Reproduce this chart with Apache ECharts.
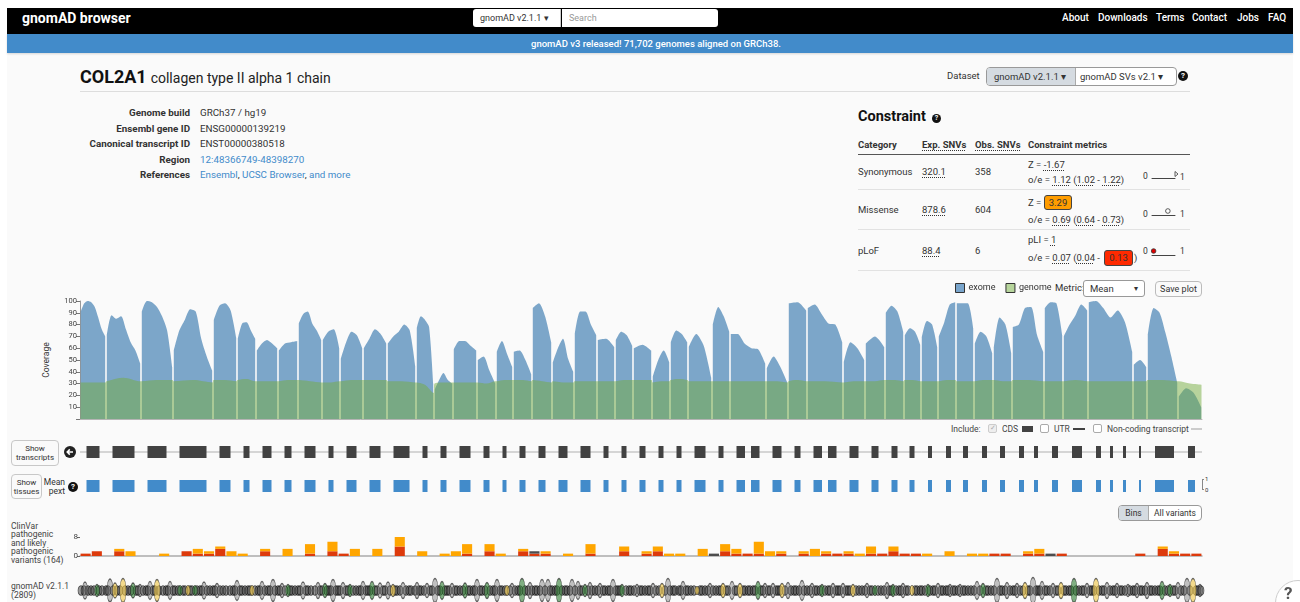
<!DOCTYPE html>
<html lang="en">
<head>
<meta charset="utf-8">
<title>COL2A1 | gnomAD</title>
<script src="https://cdn.jsdelivr.net/npm/echarts@6/dist/echarts.min.js"></script>
<style>
html,body{margin:0;padding:0}
body{width:1300px;height:602px;overflow:hidden;background:#fff;font-family:Roboto,"Noto Sans",sans-serif;color:#333;position:relative}
.a{position:absolute;white-space:nowrap}
.t{position:absolute;white-space:nowrap;line-height:12px;height:12px}
.b{font-weight:700}
.lnk{color:#428bca}
.u{text-decoration:underline dotted #333;text-underline-offset:2px}
.q{position:absolute;width:10px;height:10px;border-radius:50%;background:#111;color:#fff;font-size:8px;font-weight:700;line-height:10px;text-align:center}
.btn{position:absolute;border:1px solid #c8c8c8;border-radius:4px;background:#fafafa;font-size:8px;line-height:9px;text-align:center;box-sizing:border-box;color:#333}
.cb{position:absolute;width:9px;height:9px;border:1px solid #aaa;border-radius:2px;background:#fff;box-sizing:border-box;font-size:7px;line-height:7px;color:#aaa;text-align:center}
#chart{position:absolute;left:0;top:0;width:1300px;height:602px;z-index:5}
</style>
</head>
<body>
<div class="a" style="left:7px;top:53px;width:1286px;height:549px;background:#fafafa"></div>
<div class="a" style="left:7px;top:8px;width:1286px;height:26px;background:#000"></div>
<div class="a b" style="left:22px;top:10px;line-height:16px;font-size:14px;color:#fff">gnomAD browser</div>
<div class="a" style="left:473px;top:9px;width:88px;height:18px;background:#fff;border-radius:3px 0 0 3px;border-right:1px solid #ccc;font-size:9px;line-height:18px;padding-left:7px;box-sizing:border-box;color:#333">gnomAD v2.1.1 &#9662;</div>
<div class="a" style="left:562px;top:9px;width:156px;height:18px;background:#fff;border-radius:0 3px 3px 0;font-size:9px;line-height:18px;padding-left:7px;box-sizing:border-box;color:#999">Search</div>
<div class="a" style="left:1062px;top:12px;line-height:12px;font-size:10px;font-weight:500;color:#fff">About</div>
<div class="a" style="left:1098px;top:12px;line-height:12px;font-size:10px;font-weight:500;color:#fff">Downloads</div>
<div class="a" style="left:1156px;top:12px;line-height:12px;font-size:10px;font-weight:500;color:#fff">Terms</div>
<div class="a" style="left:1192px;top:12px;line-height:12px;font-size:10px;font-weight:500;color:#fff">Contact</div>
<div class="a" style="left:1237px;top:12px;line-height:12px;font-size:10px;font-weight:500;color:#fff">Jobs</div>
<div class="a" style="left:1268px;top:12px;line-height:12px;font-size:10px;font-weight:500;color:#fff">FAQ</div>
<div class="a" style="left:7px;top:34px;width:1286px;height:19px;background:#428bca;box-shadow:0 1px 2px rgba(0,0,0,0.15)"></div>
<div class="a" style="left:7px;top:34px;width:1298px;height:19px;text-align:center;font-size:9.5px;font-weight:500;line-height:19px;color:#fff">gnomAD v3 released! 71,702 genomes aligned on GRCh38.</div>

<div class="a" style="left:80px;top:66px;line-height:22px;color:#111"><span style="font-size:18px;font-weight:700">COL2A1</span> <span style="font-size:14px;color:#222">collagen type II alpha 1 chain</span></div>
<div class="a" style="left:80px;top:91px;width:1110px;height:1px;background:#ddd"></div>
<div class="t" style="left:947px;top:70px;font-size:9.5px">Dataset</div>
<div class="a" style="left:986px;top:67px;width:191px;height:19px;border:1px solid #999;border-radius:4px;box-sizing:border-box;background:#fff;overflow:hidden">
  <div class="a" style="left:0;top:0;width:89px;height:17px;background:#d5dbe1;border-right:1px solid #aaa;font-size:9.5px;line-height:17px;padding-left:7px;box-sizing:border-box">gnomAD v2.1.1 &#9662;</div>
  <div class="a" style="left:90px;top:0;height:17px;font-size:9.5px;line-height:17px;padding-left:3px">gnomAD SVs v2.1 &#9662;</div>
</div>
<div class="q" style="left:1178px;top:71px">?</div>

<div class="t b" style="left:0;width:190px;text-align:right;top:107px;font-size:9.8px">Genome build</div>
<div class="t" style="left:200px;top:107px;font-size:9.8px">GRCh37 / hg19</div>
<div class="t b" style="left:0;width:190px;text-align:right;top:123px;font-size:9.8px">Ensembl gene ID</div>
<div class="t" style="left:200px;top:123px;font-size:9.8px">ENSG00000139219</div>
<div class="t b" style="left:0;width:190px;text-align:right;top:138px;font-size:9.8px">Canonical transcript ID</div>
<div class="t" style="left:200px;top:138px;font-size:9.8px">ENST00000380518</div>
<div class="t b" style="left:0;width:190px;text-align:right;top:154px;font-size:9.8px">Region</div>
<div class="t lnk" style="left:200px;top:154px;font-size:9.8px">12:48366749-48398270</div>
<div class="t b" style="left:0;width:190px;text-align:right;top:169px;font-size:9.8px">References</div>
<div class="t" style="left:200px;top:169px;font-size:9.8px"><span class="lnk">Ensembl</span>, <span class="lnk">UCSC Browser</span>, <span class="lnk">and more</span></div>

<div class="a b" style="left:858px;top:108px;line-height:18px;font-size:14.5px;color:#111">Constraint</div>
<div class="q" style="left:932px;top:114px;width:9px;height:9px;line-height:9px;font-size:7px">?</div>
<div class="t b" style="left:858px;top:139px;font-size:9.5px">Category</div>
<div class="t b" style="left:922px;top:139px;font-size:9.5px"><span class="u">Exp. SNVs</span></div>
<div class="t b" style="left:975px;top:139px;font-size:9.5px"><span class="u">Obs. SNVs</span></div>
<div class="t b" style="left:1028px;top:139px;font-size:9.5px">Constraint metrics</div>
<div class="a" style="left:858px;top:154px;width:332px;height:1px;background:#555"></div>

<div class="t" style="left:858px;top:166px;font-size:9.5px">Synonymous</div>
<div class="t" style="left:922px;top:166px;font-size:9.5px"><span class="u">320.1</span></div>
<div class="t" style="left:975px;top:166px;font-size:9.5px">358</div>
<div class="t" style="left:1028px;top:159px;font-size:9.5px">Z = <span class="u">-1.67</span></div>
<div class="t" style="left:1028px;top:174px;font-size:9.5px">o/e = <span class="u">1.12</span> (<span class="u">1.02</span> - <span class="u">1.22</span>)</div>
<div class="t" style="left:1143px;top:170px;font-size:8.5px">0</div>
<div class="t" style="left:1180px;top:171px;font-size:8.5px">1</div>
<div class="a" style="left:858px;top:189px;width:332px;height:1px;background:#e2e2e2"></div>

<div class="t" style="left:858px;top:204px;font-size:9.5px">Missense</div>
<div class="t" style="left:922px;top:204px;font-size:9.5px"><span class="u">878.6</span></div>
<div class="t" style="left:975px;top:204px;font-size:9.5px">604</div>
<div class="t" style="left:1028px;top:197px;font-size:9.5px">Z = </div>
<div class="a" style="left:1044px;top:195px;width:28px;height:15px;background:#ff9d00;border:1px solid #444;border-radius:3px;box-sizing:border-box;font-size:9.5px;line-height:13px;text-align:center;color:#333">3.29</div>
<div class="t" style="left:1028px;top:214px;font-size:9.5px">o/e = <span class="u">0.69</span> (<span class="u">0.64</span> - <span class="u">0.73</span>)</div>
<div class="t" style="left:1143px;top:208px;font-size:8.5px">0</div>
<div class="t" style="left:1180px;top:208px;font-size:8.5px">1</div>
<div class="a" style="left:858px;top:229px;width:332px;height:1px;background:#e2e2e2"></div>

<div class="t" style="left:858px;top:245px;font-size:9.5px">pLoF</div>
<div class="t" style="left:922px;top:245px;font-size:9.5px"><span class="u">88.4</span></div>
<div class="t" style="left:975px;top:245px;font-size:9.5px">6</div>
<div class="t" style="left:1028px;top:234px;font-size:9.5px">pLI = <span class="u">1</span></div>
<div class="t" style="left:1028px;top:252px;font-size:9.5px">o/e = <span class="u">0.07</span> (<span class="u">0.04</span> - </div>
<div class="a" style="left:1104px;top:250px;width:29px;height:16px;background:#ff2a00;border:1px solid #444;border-radius:3px;box-sizing:border-box;font-size:9.5px;line-height:14px;text-align:center;color:#333">0.13</div>
<div class="t" style="left:1134px;top:252px;font-size:9.5px">)</div>
<div class="t" style="left:1143px;top:245px;font-size:8.5px">0</div>
<div class="t" style="left:1180px;top:245px;font-size:8.5px">1</div>
<div class="a" style="left:858px;top:270px;width:332px;height:1px;background:#e2e2e2"></div>

<div class="t" style="left:1055px;top:282px;font-size:9.5px">Metric:</div>
<div class="a" style="left:1083px;top:280px;width:62px;height:17px;border:1px solid #999;border-radius:3px;box-sizing:border-box;background:#fff;font-size:9.5px;line-height:15px;padding-left:6px">Mean<span style="position:absolute;left:50px;font-size:8px">&#9662;</span></div>
<div class="a" style="left:1155px;top:281px;width:47px;height:16px;border:1px solid #bbb;border-radius:4px;box-sizing:border-box;background:#fafafa;font-size:9px;line-height:14px;text-align:center">Save plot</div>
<div class="a" style="left:16px;top:354px;width:60px;height:12px;line-height:12px;text-align:center;font-size:8.5px;transform:rotate(-90deg);transform-origin:30px 6px">Coverage</div>

<div class="t" style="left:951px;top:423px;font-size:8.5px;color:#444">Include:</div>
<div class="cb" style="left:988px;top:424px;border-color:#ccc;background:#eee">&#10003;</div>
<div class="t" style="left:1002px;top:423px;font-size:8.5px;color:#444">CDS</div>
<div class="a" style="left:1022px;top:426px;width:11px;height:6px;background:#424242"></div>
<div class="cb" style="left:1040px;top:424px"></div>
<div class="t" style="left:1054px;top:423px;font-size:8.5px;color:#444">UTR</div>
<div class="a" style="left:1073px;top:428px;width:12px;height:2px;background:#424242"></div>
<div class="cb" style="left:1093px;top:424px"></div>
<div class="t" style="left:1107px;top:423px;font-size:8.5px;color:#444">Non-coding transcript</div>
<div class="a" style="left:1191px;top:428px;width:11px;height:2px;background:#ccc"></div>

<div class="btn" style="left:11px;top:440px;width:48px;height:26px;padding-top:3px">Show<br>transcripts</div>
<svg class="a" style="left:64px;top:446px" width="12" height="12" viewBox="0 0 12 12"><circle cx="6" cy="6" r="6" fill="#222"/><path d="M9 6H3.5M5.8 3.4L3.2 6l2.6 2.6" stroke="#fff" stroke-width="1.5" fill="none"/></svg>
<div class="btn" style="left:11px;top:474px;width:31px;height:25px;padding-top:3px">Show<br>tissues</div>
<div class="a" style="left:42px;top:478px;width:23px;text-align:right;font-size:8.5px;line-height:9px">Mean<br>pext</div>
<div class="q" style="left:68px;top:482px">?</div>
<div class="a" style="left:1202px;top:479px;width:2px;height:11px;border:1px solid #888;border-right:none;box-sizing:border-box"></div>
<div class="a" style="left:1205px;top:475px;font-size:6px;line-height:7px">1</div>
<div class="a" style="left:1205px;top:486px;font-size:6px;line-height:7px">0</div>

<div class="a" style="left:1118px;top:505px;width:84px;height:16px;border:1px solid #999;border-radius:4px;box-sizing:border-box;overflow:hidden;background:#fff">
  <div class="a" style="left:0;top:0;width:29px;height:14px;background:#d5dbe1;border-right:1px solid #aaa;font-size:8.5px;line-height:14px;text-align:center">Bins</div>
  <div class="a" style="left:30px;top:0;width:52px;height:14px;font-size:8.5px;line-height:14px;text-align:center">All variants</div>
</div>

<div class="a" style="left:11px;top:522px;font-size:8.5px;line-height:8.4px;color:#444">ClinVar<br>pathogenic<br>and likely<br>pathogenic<br>variants (164)</div>
<div class="a" style="left:11px;top:582px;font-size:8.5px;line-height:9px;color:#444">gnomAD v2.1.1<br>(2809)</div>

<div class="a" style="left:1275px;top:580px;width:44px;height:44px;border-radius:50%;border:1px solid #ccc;background:#fff;z-index:6"></div>
<div class="a b" style="left:1284px;top:583px;font-size:17px;line-height:20px;color:#555;z-index:7">?</div>

<div id="chart"></div>

<script>
// ---------------- DATA ----------------
const regionBounds = [0,26,61,93,133,157,176,198,218,242,260,283,307,336,354,373,397,416,433,452,472,494,517,535,553,572,590,608,632,650,686,708,727,763,785,805,824,841,858,876,894,913,932,964,983,1008,1053,1067,1098,1122];
const exomeCoverage = [
 [91,98,100,99,95,86,76,70],[71,88,85,87,76,65,58,47],[91,100,99,95,87,75,44],[58,75,84,93,91,68,53,41],
 [84,96,98,92,69],[68,81,82,75,68],[58,64,67,64,60],[58,64,65,66],[81,89,91,81,75,67],[67,74,76,60],
 [51,65,74,71,60],[60,68,76,72,64],[64,70,74,80,75,45],[77,87,84,78,30],[25,33,39,33,30],[59,66,66,62,58],
 [50,53,41,30],[57,66,55,44],[57,58,50,38],[94,98,87,65],[48,60,68,51,40],[72,91,91,80,71],[67,68,61],
 [67,74,71,62],[60,63,58],[36,50,58,48],[65,75,72,65],[61,72,62,35],[80,95,87,74],[72,72,64,60,59,47],
 [43,53,44,31],[98,99,92],[94,97,89,81,80,65],[48,65,60,50],[64,70,61],[90,96,91,74],[71,77,74,63],
 [69,83,80,61],[70,82,97,99],[98,98,98,77],[64,74,70,56],[60,86,80,56],[78,80,94,95,71,57],[94,99,98,71],
 [70,80,88,97,92],[99,100,94,86,92,82,57],[46,50,44],[71,94,90,73,53,31],[19,26,22,10]
];
const genomeCoverage = [
 [31,31,31],[32,35,32],[32,33,33],[32,33,31],[33,33,32],[33,34,32],[32,32,32],[32,33,33],[33,32,31],[31,31,32],
 [32,33,33],[33,33,33],[32,32,31],[31,29,22],[30,31,31],[31,31,31],[31,30,32],[32,33,33],[33,33,32],[33,32,31],
 [32,31,31],[32,32,32],[32,32,32],[32,33,33],[33,33,33],[31,32,32],[33,34,33],[32,32,32],[32,32,32],[32,32,32],
 [32,32,31],[32,33,32],[32,32,31],[31,32,32],[32,32,33],[33,33,32],[33,33,32],[32,32,32],[32,33,33],[32,32,32],
 [32,33,33],[33,32,32],[33,33,32],[32,32,32],[32,33,32],[32,32,32],[32,32,32],[33,33,32],[32,30,29]
];
const exons = [
 [6.5,19.5],[32.5,54.5],[67.5,86.5],[99.5,126.5],[139.5,150.5],[163.5,169.5],[182.5,191.5],[204.5,211.5],
 [224.5,235.5],[248.5,253.5],[266.5,276.5],[289.5,300.5],[313.5,329.5],[342.5,347.5],[360.5,366.5],[379.5,390.5],
 [403.5,409.5],[422.5,426.5],[439.5,445.5],[458.5,465.5],[478.5,487.5],[500.5,510.5],[523.5,528.5],[541.5,546.5],
 [559.5,565.5],[578.5,583.5],[596.5,601.5],[614.5,625.5],[638.5,643.5],[656.5,665],[671,679.5],[692.5,701.5],
 [714.5,720.5],[733.5,742],[748,756.5],[769.5,778.5],[791.5,798.5],[811.5,817.5],[829.5,834.5],[848,852],
 [866,871],[883,888],[902,907],[920,925],[939,944],[954,958],[972,978],[992,1002],[1016,1021],[1030,1033],
 [1043,1046],[1059,1061],[1075,1094],[1108,1115]
];
const clinvarPathogenic = [1,2,0,2,0,0,0,0,0,2, 1,1,3,0,0,0,2,0,0,0, 1,0,2,1,0,0,0,0,4,0, 0,0,0,0,1,0,2,0,0,2,
 1,1,0,0,0,1,0,0,2,0, 1,2,0,0,0,0,0,2,1,1, 1,0,1,0,1,0,1,1,1,0, 1,1,2,1,1,0,0,0,0,0, 0,1,1,0,1,1,0,1,0,0, 0,0,0,0,1,0,3,1,1,1];
const clinvarLikelyPathogenic = [0,0,0,1,2,0,0,1,0,0, 2,1,1,2,1,0,1,0,3,0, 4,0,4,0,3,0,3,0,4,0, 2,0,1,2,4,0,3,1,0,1,
 0,1,0,1,0,4,0,0,2,0, 1,2,1,1,0,3,0,3,2,0, 5,2,1,0,1,3,1,0,1,1, 3,0,2,0,0,1,0,2,0,1, 1,0,0,0,1,2,0,0,0,0, 0,0,0,0,0,0,1,1,0,0];
const clinvarOther = [0,0,0,0,0,0,0,0,0,0, 0,0,0,0,0,0,0,0,0,0, 0,0,0,0,0,0,0,0,0,0, 0,0,0,0,0,0,0,0,0,0,
 1,0,0,0,0,0,0,0,0,0, 0,0,0,0,0,0,1,0,0,0, 0,0,0,0,0,0,0,0,0,0, 0,0,0,0,0,0,0,0,0,0, 0,0,0,0,0,0,1,0,0,0, 0,0,0,0,0,0,0,0,0,0];
const gnomadVariants = [
 [5,-2.75,'o'],[17,-4,'s'],[30,-1.25,'o'],[35,-3.25,'m'],[43,-1,'m'],[53,-3.25,'s'],[60,-4,'o'],[70,-2.5,'o'],[77,-1.5,'m'],[90,-2.5,'o'],
 [100,-4.5,'s'],[108,-4.5,'m'],[115,-4.5,'s'],[124,-2.75,'o'],[137,-3.5,'o'],[157,-2,'o'],[172,-4.5,'m'],[182,-2.5,'o'],[193,-1.5,'o'],[202,-3.5,'o'],
 [208,-4,'s'],[223,-2.75,'o'],[238,-3,'o'],[245,-3.5,'s'],[253,-1.5,'o'],[263,-3,'o'],[270,-4,'s'],[283,-2.5,'o'],[292,-2.5,'s'],[300,-3.25,'o'],
 [308,-2.75,'o'],[313,-4,'m'],[323,-3,'o'],[337,-3,'o'],[347,-3.5,'o'],[355,-1,'o'],[362,-2.5,'s'],[372,-3.5,'o'],[385,-3.25,'s'],[397,-1.5,'o'],
 [407,-3,'s'],[417,-1.5,'o'],[427,-4.5,'m'],[432,-3.5,'o'],[442,-1,'s'],[450,-3,'o'],[462,-1.5,'o'],[468,-1.5,'o'],[479,-1,'s'],[492,-1.5,'o'],
 [498,-2.5,'o'],[505,-4,'s'],[510,-3,'o'],[520,-3.5,'o'],[533,-1.5,'o'],[542,-4,'s'],[557,-4,'o'],[573,-3.5,'o'],[582,-3.5,'m'],[588,-1,'o'],
 [603,-2.5,'o'],[617,-5,'m'],[630,-3.5,'o'],[643,-3.5,'m'],[652,-2.5,'o'],[660,-3.5,'m'],[678,-2.5,'s'],[685,-3.5,'o'],[693,-3.5,'o'],[702,-3.5,'m'],
 [708,-3,'o'],[722,-2,'o'],[732,-3.5,'o'],[742,-4,'s'],[753,-3.5,'o'],[763,-3.5,'o'],[773,-4,'m'],[787,-3.5,'o'],[795,-4.5,'s'],[807,-3,'o'],
 [813,-4,'s'],[823,-3.5,'o'],[832,-4.5,'m'],[848,-4,'s'],[858,-3.5,'o'],[870,-4,'o'],[880,-4,'o'],[897,-2.5,'o'],[903,-3.5,'s'],[917,-1,'o'],
 [927,-3,'o'],[937,-3.5,'o'],[945,-3,'m'],[953,-0.5,'o'],[962,-2.5,'o'],[973,-3.5,'o'],[981,-3,'m'],[994,-1,'s'],[1007,-3.5,'o'],[1016,-1,'m'],
 [1027,-3,'o'],[1037,-3.5,'o'],[1048,-4,'o'],[1057,-3.5,'o'],[1067,-3,'o'],[1082,-2.5,'s'],[1090,-4,'s'],[1098,-3,'o'],[1107,-1,'o'],[1113,-1,'m'],[1120,-4,'o']
];
const rareVariantPositions = [
 1,4,8,11,14,19,22,26,28,33,37,40,45,48,51,56,58,63,66,68,73,75,79,83,86,88,93,95,98,103,105,110,112,117,120,122,127,130,133,135,
 140,143,146,150,153,155,160,162,165,168,170,175,178,180,185,188,190,195,198,200,205,210,212,215,218,220,226,228,231,235,240,242,247,249,
 251,256,258,260,266,268,273,276,279,281,286,288,290,295,297,303,305,310,315,317,320,326,329,331,335,339,341,344,350,352,358,360,365,367,
 369,375,377,380,383,388,390,393,395,400,402,405,410,413,415,420,422,425,430,435,438,440,445,448,452,455,457,460,465,470,472,475,477,482,
 485,487,490,495,500,502,508,512,515,518,523,525,528,530,536,538,540,546,549,551,554,560,562,565,568,570,576,579,585,590,593,595,599,601,
 606,608,611,614,620,622,625,628,633,636,639,641,646,648,655,657,663,665,668,670,673,675,681,683,688,690,696,698,700,705,711,714,716,719,
 724,727,730,735,737,740,745,748,750,756,758,760,766,768,770,776,779,782,785,790,792,798,801,804,809,811,816,819,821,826,828,835,837,840,
 842,845,850,853,855,861,863,866,868,873,875,878,883,885,888,891,894,900,906,908,911,914,920,922,925,930,933,935,940,943,948,950,956,958,
 960,965,967,970,976,978,984,986,989,991,996,999,1002,1004,1010,1012,1014,1019,1022,1024,1030,1033,1035,1040,1042,1045,1050,1053,1055,
 1060,1062,1065,1070,1072,1075,1078,1080,1085,1088,1093,1095,1101,1104,1110,1116,1118,1121
];
const constraintOE = [1.12, 0.69, 0.07];
const constraintOELower = [1.02, 0.64, 0.04];
const constraintOEUpper = [1.22, 0.73, 0.13];
const coverageTickLabels = [10,20,30,40,50,60,70,80,90,100];

// ---------------- BUILD ----------------
const axisMax = regionBounds[regionBounds.length-1];
const exomeData = [], genomeData = [];
for (let i=0;i<regionBounds.length-1;i++){
  const s=regionBounds[i], e=regionBounds[i+1];
  const vals=exomeCoverage[i], a=s+0.8, b=e-0.8;
  vals.forEach((v,j)=>exomeData.push([a+(b-a)*j/(vals.length-1), v]));
  exomeData.push([e, null]);
  const g=genomeCoverage[i];
  genomeData.push([s+0.5,g[0]],[(s+e)/2,g[1]],[e-0.5,g[2]]);
}
const binNames = clinvarPathogenic.map((_,i)=>String(i));
const consColor = {o:'rgba(105,105,105,0.5)', s:'rgba(46,125,50,0.75)', m:'rgba(240,201,77,0.8)'};
const afToHeight = af => 4 + (af+6)*4;
const bandItems = rareVariantPositions.map(p=>({value:[p,0], symbolSize:[6, afToHeight(-4.6)], itemStyle:{color:'rgba(55,55,55,0.62)'}}));
const variantItems = gnomadVariants.map(v=>{
  const h = afToHeight(v[1]);
  return {value:[v[0],0], symbolSize:[3+h*0.14, h], itemStyle:{color:consColor[v[2]]}};
});

function rectRender(fill){
  return function(params, api){
    const p0=api.coord([api.value(0),0]), p1=api.coord([api.value(1),1]);
    return {type:'rect', shape:{x:p0[0], y:p1[1], width:Math.max(1.5,p1[0]-p0[0]), height:p0[1]-p1[1]}, style:{fill:fill}};
  };
}
function oeRender(kind){
  return function(params, api){
    const oe=api.value(0), lo=api.value(1), hi=api.value(2);
    const y=api.coord([0,0.5])[1];
    const xl=api.coord([Math.min(lo,1),0])[0], xh=api.coord([Math.min(hi,1),0])[0], xp=api.coord([Math.min(oe,1),0])[0];
    const ch=[];
    if (oe>1){
      ch.push({type:'polygon', shape:{points:[[xp,y-2.5],[xp+3,y],[xp,y+2.5]]}, style:{fill:'#fff', stroke:'#333', lineWidth:0.8}});
    } else {
      ch.push({type:'line', shape:{x1:xl,y1:y,x2:xh,y2:y}, style:{stroke:'#333', lineWidth:1}});
      ch.push({type:'circle', shape:{cx:xp, cy:y, r:2.3}, style:{fill: kind==='lof' ? '#e00000' : '#fff', stroke:'#333', lineWidth:0.8}});
    }
    return {type:'group', children:ch};
  };
}

const chart = echarts.init(document.getElementById('chart'), null, {renderer:'canvas'});
const hiddenVal = (g,min,max)=>({gridIndex:g, type:'value', min:min, max:max, show:false});
chart.setOption({
  animation:false,
  backgroundColor:'transparent',
  textStyle:{fontFamily:'Roboto'},
  legend:{left:955, top:283, padding:0, itemWidth:9, itemHeight:9, itemGap:10, icon:'rect', selectedMode:false,
    textStyle:{fontSize:9, color:'#333', padding:[0,0,0,-1]},
    data:[{name:'exome', itemStyle:{color:'#79a5cc', borderColor:'#333', borderWidth:1}},
          {name:'genome', itemStyle:{color:'#b7d59c', borderColor:'#333', borderWidth:1}}]},
  grid:[
    {left:80, top:301, width:1122, height:118},
    {left:80, top:446, width:1122, height:12},
    {left:80, top:480, width:1122, height:12},
    {left:80, top:537, width:1122, height:19},
    {left:80, top:579, width:1122, height:24},
    {left:1152, top:170, width:23, height:8},
    {left:1152, top:207, width:23, height:8},
    {left:1152, top:247, width:23, height:8}
  ],
  xAxis:[
    {gridIndex:0, type:'value', min:0, max:axisMax, axisLine:{show:true, lineStyle:{color:'#b5b5b5'}}, axisTick:{show:false}, axisLabel:{show:false}, splitLine:{show:false}},
    hiddenVal(1,0,axisMax), hiddenVal(2,0,axisMax),
    {gridIndex:3, type:'category', data:binNames, axisLine:{show:true, lineStyle:{color:'#aaa', width:1.5}}, axisTick:{show:false}, axisLabel:{show:false}},
    hiddenVal(4,0,axisMax),
    {gridIndex:5, type:'value', min:0, max:1, axisLine:{show:true, lineStyle:{color:'#444'}}, axisTick:{show:false}, axisLabel:{show:false}, splitLine:{show:false}},
    {gridIndex:6, type:'value', min:0, max:1, axisLine:{show:true, lineStyle:{color:'#444'}}, axisTick:{show:false}, axisLabel:{show:false}, splitLine:{show:false}},
    {gridIndex:7, type:'value', min:0, max:1, axisLine:{show:true, lineStyle:{color:'#444'}}, axisTick:{show:false}, axisLabel:{show:false}, splitLine:{show:false}}
  ],
  yAxis:[
    {gridIndex:0, type:'value', min:0, max:100, interval:10,
      axisLine:{show:true, lineStyle:{color:'#999'}}, axisTick:{show:true, length:4, lineStyle:{color:'#777'}},
      axisLabel:{fontSize:7.5, color:'#444', margin:3, formatter:v=>coverageTickLabels.includes(v)?String(v):''}, splitLine:{show:false}},
    hiddenVal(1,0,1), hiddenVal(2,0,1),
    {gridIndex:3, type:'value', min:0, max:8, interval:8, axisLine:{show:false}, axisTick:{show:true, length:3, lineStyle:{color:'#666'}},
      axisLabel:{fontSize:8, color:'#444', margin:2}, splitLine:{show:false}},
    hiddenVal(4,-1,1), hiddenVal(5,0,1), hiddenVal(6,0,1), hiddenVal(7,0,1)
  ],
  series:[
    {name:'exome', type:'line', xAxisIndex:0, yAxisIndex:0, data:exomeData, symbol:'none', smooth:0.25, connectNulls:false,
      lineStyle:{width:0}, itemStyle:{color:'#79a5cc'}, areaStyle:{color:'rgba(70,130,180,0.7)', opacity:1}, silent:true, z:2},
    {name:'genome', type:'line', xAxisIndex:0, yAxisIndex:0, data:genomeData, symbol:'none', smooth:0.3,
      lineStyle:{width:0}, itemStyle:{color:'#b7d59c'}, areaStyle:{color:'rgba(115,171,61,0.5)', opacity:1}, silent:true, z:3},
    {name:'intron', type:'custom', xAxisIndex:1, yAxisIndex:1, data:[[0,axisMax]], silent:true,
      renderItem:(p,api)=>{const a=api.coord([api.value(0),0.5]), b=api.coord([api.value(1),0.5]);
        return {type:'line', shape:{x1:a[0],y1:a[1],x2:b[0],y2:b[1]}, style:{stroke:'#b0b0b0', lineWidth:1}};}},
    {name:'transcript', type:'custom', xAxisIndex:1, yAxisIndex:1, data:exons, renderItem:rectRender('#424242'), silent:true},
    {name:'pext', type:'custom', xAxisIndex:2, yAxisIndex:2, data:exons, renderItem:rectRender('#428bca'), silent:true},
    {name:'Pathogenic', type:'bar', xAxisIndex:3, yAxisIndex:3, stack:'cv', data:clinvarPathogenic, barCategoryGap:'10%', itemStyle:{color:'#dd3a0c'}, silent:true},
    {name:'Likely pathogenic', type:'bar', xAxisIndex:3, yAxisIndex:3, stack:'cv', data:clinvarLikelyPathogenic, barCategoryGap:'10%', itemStyle:{color:'#ffa600'}, silent:true},
    {name:'Other', type:'bar', xAxisIndex:3, yAxisIndex:3, stack:'cv', data:clinvarOther, barCategoryGap:'10%', itemStyle:{color:'#4d4d4d'}, silent:true},
    {name:'rare variants', type:'scatter', xAxisIndex:4, yAxisIndex:4, data:bandItems, symbol:'circle', clip:false, silent:true, z:2,
      itemStyle:{borderColor:'rgba(15,15,15,0.85)', borderWidth:0.8}},
    {name:'variants', type:'scatter', xAxisIndex:4, yAxisIndex:4, data:variantItems, symbol:'circle', clip:false, silent:true, z:3,
      itemStyle:{borderColor:'rgba(20,20,20,0.8)', borderWidth:0.8}},
    {name:'oeSyn', type:'custom', xAxisIndex:5, yAxisIndex:5, data:[[constraintOE[0],constraintOELower[0],constraintOEUpper[0]]], renderItem:oeRender('syn'), silent:true},
    {name:'oeMis', type:'custom', xAxisIndex:6, yAxisIndex:6, data:[[constraintOE[1],constraintOELower[1],constraintOEUpper[1]]], renderItem:oeRender('mis'), silent:true},
    {name:'oeLof', type:'custom', xAxisIndex:7, yAxisIndex:7, data:[[constraintOE[2],constraintOELower[2],constraintOEUpper[2]]], renderItem:oeRender('lof'), silent:true}
  ]
});
</script>
</body>
</html>
